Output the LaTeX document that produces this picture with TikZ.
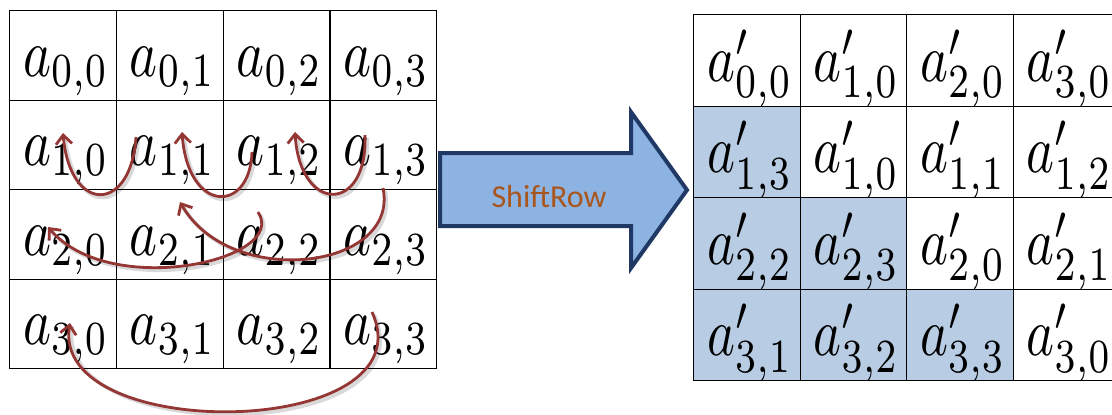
\documentclass[tikz,border=0pt]{standalone}
\usepackage{fontspec}
\usepackage{graphicx}
\usetikzlibrary{arrows.meta,calc}
\newfontfamily\carlito{Carlito}
\definecolor{arrred}{HTML}{943634}
\definecolor{navyb}{HTML}{1F3864}
\definecolor{arrfill}{HTML}{8DB3E2}
\definecolor{shadecell}{HTML}{B8CCE4}
\definecolor{txtorange}{HTML}{A9561E}
\newcommand{\cellmath}[1]{\scalebox{5.3}[6.8]{$#1$}}
\begin{document}
\begin{tikzpicture}[x=1pt,y=-1pt,
  gridline/.style={draw=black,line width=1.3pt},
  cellL/.style={gridline,minimum width=106.75pt,minimum height=89.5pt,inner sep=0pt,anchor=north west},
  cellR/.style={gridline,minimum width=106.5pt,minimum height=91.5pt,inner sep=0pt,anchor=north west},
  entry/.style={inner sep=0pt,anchor=base west},
  shiftarc/.style={draw=arrred,line width=2.8pt,-{Straight Barb[length=9pt,width=16pt]}},
  shad/.style={draw=black,opacity=0.15,line width=4pt,transform canvas={shift={(2pt,-3pt)}}},
]
\useasboundingbox (0,0) rectangle (1112,415);
\clip (0,0) rectangle (1112,415);
\fill[white] (0,0) rectangle (1112,415);

% left grid
\foreach \r in {0,...,3}{\foreach \c in {0,...,3}{
  \node[cellL] (L\r\c) at ({9+\c*106.75},{10+\r*89.5}) {};
  \node[entry] (tL\r\c) at ($(L\r\c.north west)+(14,66)$) {\cellmath{a_{\r,\c}}};
}}

% right grid
\foreach \r/\c/\s/\h in {0/0/{0,0}/white,0/1/{1,0}/white,0/2/{2,0}/white,0/3/{3,0}/white,
                         1/0/{1,3}/shadecell,1/1/{1,0}/white,1/2/{1,1}/white,1/3/{1,2}/white,
                         2/0/{2,2}/shadecell,2/1/{2,3}/shadecell,2/2/{2,0}/white,2/3/{2,1}/white,
                         3/0/{3,1}/shadecell,3/1/{3,2}/shadecell,3/2/{3,3}/shadecell,3/3/{3,0}/white}{
  \node[cellR,fill=\h] (R\r\c) at ({693+\c*106.5},{14+\r*91.5}) {};
  \node[entry] (tR\r\c) at ($(R\r\c.north west)+(14,67)$) {\cellmath{a'_{\s}}};
}

% big arrow
\draw[navyb,line width=4pt,fill=arrfill,line join=miter]
  (440,153) -- (631,153) -- (631,112) -- (687,190) -- (631,268) -- (631,226) -- (440,226) -- cycle;
\node[font=\carlito\fontsize{32}{32}\selectfont,text=txtorange,anchor=base,inner sep=0pt] (lbl) at (549,207) {ShiftRow};

% shift arcs
\coordinate (s1) at (136,137); \coordinate (p1) at (63,133);
\coordinate (s2) at (252,152); \coordinate (p2) at (182,132);
\coordinate (s3) at (365,135); \coordinate (p3) at (295,132);
\coordinate (s4) at (383,188); \coordinate (p4) at (180,202);
\coordinate (s5) at (258,212); \coordinate (p5) at (48,227);
\coordinate (s6) at (372,312); \coordinate (p6) at (70,323);

\foreach \st in {shad,shiftarc}{
  \draw[\st] (s1) .. controls (131,214) and (70,214) .. (p1);
  \draw[\st] (s2) .. controls (250,214) and (188,214) .. (p2);
  \draw[\st] (s3) .. controls (368,214) and (300,214) .. (p3);
  \draw[\st] (s4) .. controls (400,270) and (230,290) .. (p4);
  \draw[\st] (s5) .. controls (290,260) and (110,300) .. (p5);
  \draw[\st] (s6) .. controls (430,440) and (50,445) .. (p6);
}
\end{tikzpicture}
\end{document}
